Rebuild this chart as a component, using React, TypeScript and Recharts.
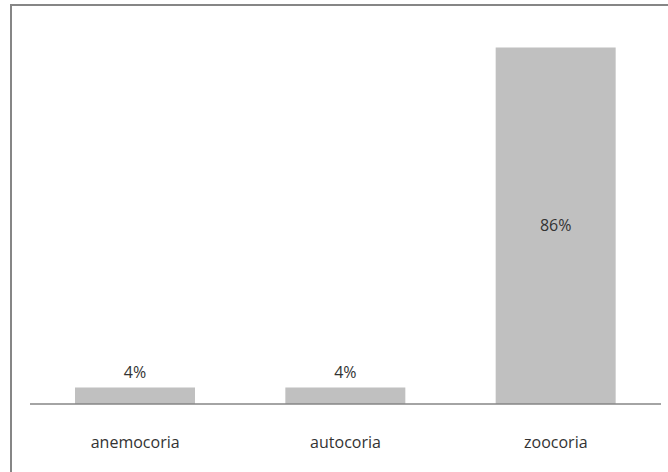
import { Bar, BarChart, LabelList, XAxis, YAxis } from "recharts";

const categories = ["anemocoria", "autocoria", "zoocoria"];
const shares = [4, 4, 86];

const data = categories.map((name, i) => ({ name, share: shares[i] }));

const FONT = "'Open Sans', sans-serif";

function ShareLabel(props: any) {
  const { x, y, width, height, value } = props;
  const cx = x + width / 2;
  // tall bar gets its label in the middle, short ones sit on top
  const cy = value > 50 ? y + height / 2 : y - 15;
  return (
    <text
      x={cx}
      y={cy}
      dy="0.35em"
      textAnchor="middle"
      fontSize={16}
      fontFamily={FONT}
      fill="#333"
    >
      {value}%
    </text>
  );
}

function CategoryTick(props: any) {
  const { x, y, payload } = props;
  return (
    <text
      x={x}
      y={y + 36}
      dy="0.35em"
      textAnchor="middle"
      fontSize={16}
      fontFamily={FONT}
      fill="#333"
    >
      {payload.value}
    </text>
  );
}

export default function App() {
  return (
    <div
      style={{
        position: "absolute",
        left: 0,
        top: 0,
        width: 668,
        height: 472,
        background: "#fff",
        overflow: "hidden",
      }}
    >
      <div
        style={{
          position: "absolute",
          left: 10,
          top: 4,
          width: 700,
          height: 500,
          borderTop: "2px solid #868686",
          borderLeft: "2px solid #868686",
        }}
      />
      <div style={{ position: "absolute", left: 0, top: 0 }}>
        <BarChart
          width={668}
          height={472}
          data={data}
          margin={{ top: 31, right: 7, bottom: 8, left: 30 }}
        >
          <XAxis
            dataKey="name"
            height={60}
            tickLine={false}
            tickSize={0}
            axisLine={{ stroke: "#868686", strokeWidth: 1.5 }}
            tick={<CategoryTick />}
            interval={0}
          />
          <YAxis hide domain={[0, 90]} />
          <Bar
            dataKey="share"
            fill="#c0c0c0"
            barSize={120}
            isAnimationActive={false}
          >
            <LabelList dataKey="share" content={<ShareLabel />} />
          </Bar>
        </BarChart>
      </div>
    </div>
  );
}
